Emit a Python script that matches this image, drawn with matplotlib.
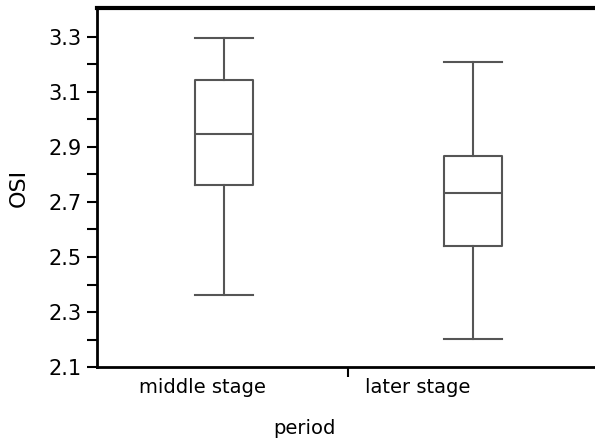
import matplotlib
matplotlib.use("Agg")
import matplotlib.pyplot as plt
import numpy as np

# values
periods = ["middle stage", "later stage"]
whislo = [2.362, 2.201]
q1 = [2.762, 2.541]
med = [2.948, 2.732]
q3 = [3.144, 2.868]
whishi = [3.295, 3.210]

yticks = [2.1, 2.3, 2.5, 2.7, 2.9, 3.1, 3.3]

plt.rcParams['font.family'] = ['DejaVu Sans']

fig = plt.figure(figsize=(5.95, 4.46), dpi=100)
ax = fig.add_axes([0.163, 0.177, 0.837, 0.805])

stats = []
for i in range(len(periods)):
    stats.append({"label": periods[i], "whislo": whislo[i], "q1": q1[i],
                  "med": med[i], "q3": q3[i], "whishi": whishi[i]})

gray = "#555555"
ax.bxp(stats, positions=[0, 1], widths=0.233, showfliers=False,
       boxprops=dict(color=gray, linewidth=1.5),
       medianprops=dict(color=gray, linewidth=1.5),
       whiskerprops=dict(color=gray, linewidth=1.5),
       capprops=dict(color=gray, linewidth=1.5),
       capwidths=0.233)

ax.set_xlim(-0.51, 1.49)
ax.set_ylim(2.1, 3.405)

ax.set_yticks(yticks)
ax.set_yticklabels(["%.1f" % t for t in yticks])
ax.set_yticks(np.arange(2.2, 3.4, 0.2), minor=True)
ax.tick_params(axis="y", which="both", direction="out", length=7.5, width=1.5,
               labelsize=15, pad=3.5)

# category labels sit left of the boxes in the reference
ax.set_xticks([-0.088, 0.777])
ax.set_xticklabels(periods)
ax.set_xticks([0.5], minor=True)
ax.tick_params(axis="x", which="major", length=0, labelsize=14, pad=8)
ax.tick_params(axis="x", which="minor", direction="out", length=7.5, width=1.5)

ax.spines["right"].set_visible(False)
ax.spines["top"].set_linewidth(3)
ax.spines["left"].set_linewidth(2)
ax.spines["bottom"].set_linewidth(2)

ax.set_ylabel("OSI", fontsize=16)
ax.yaxis.set_label_coords(-0.138, 0.5)
ax.set_xlabel("period", fontsize=14)
ax.xaxis.set_label_coords(0.416, -0.144)

fig.savefig("out.png", dpi=100)
